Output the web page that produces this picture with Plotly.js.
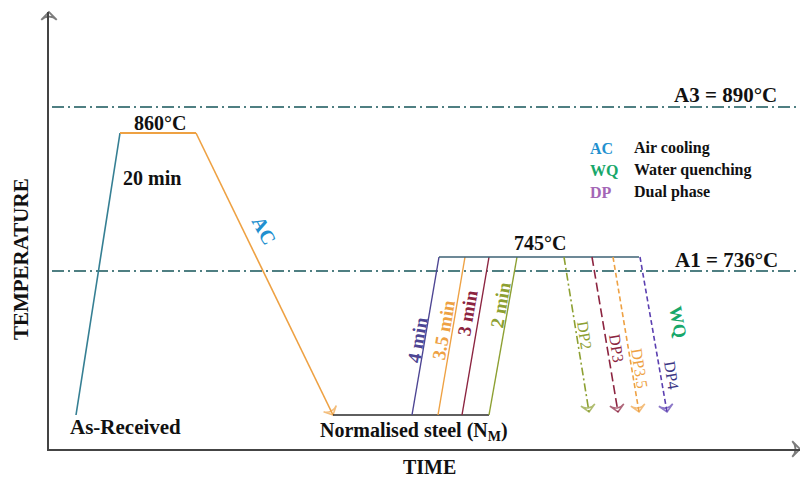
<!DOCTYPE html>
<html>
<head>
<meta charset="utf-8">
<script src="https://cdn.plot.ly/plotly-3.0.1.min.js"></script>
<style>html,body{margin:0;padding:0;background:#fff;}#chart{width:800px;height:480px;}</style>
</head>
<body>
<div id="chart"></div>
<script>
// Schematic heat-treatment cycle (arbitrary time / temperature units)
var A3Level = 34.2, A1Level = 17.8;
var criticalX = [0.3, 75.1];

var heatX = [2.7, 7.1], heatY = [3.4, 31.6];
var soakX = [7.1, 14.7], soakY = [31.6, 31.6];
var acX = [14.7, 28.4], acY = [31.6, 3.4];
var normX = [28.4, 44.0], normY = [3.4, 3.4];

var rampNames = ['4 min', '3.5 min', '3 min', '2 min'];
var rampStartX = [36.3, 38.9, 41.3, 44.0];
var rampTopX = [39.0, 41.6, 44.0, 46.8];
var rampBaseY = 3.4, icaY = 19.2;
var icaX = [39.0, 59.0];

var dpNames = ['DP2', 'DP3', 'DP3.5', 'DP4'];
var dpStartX = [51.5, 54.3, 56.4, 59.1];
var dpEndX = [54.0, 56.9, 59.0, 61.8];
var dpEndY = 3.7;

var rampLabelX = [36.8, 39.4, 41.8, 45.1];
var rampLabelY = [10.9, 11.9, 13.6, 14.4];
var dpLabelX = [53.6, 56.8, 59.1, 62.3];
var dpLabelY = [11.4, 10.1, 8.1, 7.4];

var legendKeys = ['AC', 'WQ', 'DP'];
var legendTexts = ['Air cooling', 'Water quenching', 'Dual phase'];
var legendY = [30.1, 27.9, 25.7];

var xRange = [0, 75.1], yRange = [0, 43.7];

var C = {
  heat: '#357f93', orange: '#eea143', black: '#2a2a2a', purple: '#4d4593',
  maroon: '#8c2440', olive: '#8da032', ica: '#3d6275', crit: '#4f7f82',
  dp4: '#5b3fb0', ac: '#2190cf', wq: '#17a76a', dp: '#a466b6', axis: '#444'
};
var rampColors = [C.purple, C.orange, C.maroon, C.olive];
var dpColors = [C.olive, C.maroon, C.orange, C.dp4];
var dpLabelColors = [C.olive, C.maroon, C.orange, '#3b3685'];
var dpDash = ['8px,3px,2px,3px', '9px,4px', '5px,3px', '5px,3px'];

var FONT = 'Liberation Serif, Times New Roman, serif';

function line(x, y, color, width, dash, arrow) {
  var t = {x: x, y: y, type: 'scatter', mode: arrow ? 'lines+markers' : 'lines',
    line: {color: color, width: width, dash: dash || 'solid'}, hoverinfo: 'skip', showlegend: false};
  if (arrow) {
    t.marker = {symbol: 'arrow-wide-open', size: [0, 10], angleref: 'previous',
      color: color, line: {color: color, width: 1.6}};
  }
  return t;
}
function axisHead(x, y) {
  return {x: x, y: y, type: 'scatter', mode: 'markers', cliponaxis: false, hoverinfo: 'skip', showlegend: false,
    marker: {symbol: 'arrow-wide-open', size: [0, 11], angleref: 'previous',
      color: C.axis, line: {color: C.axis, width: 1.8}}};
}

var traces = [];
traces.push(line(criticalX, [A3Level, A3Level], C.crit, 1.8, '12px,4px,2px,4px'));
traces.push(line(criticalX, [A1Level, A1Level], C.crit, 1.8, '12px,4px,2px,4px'));
traces.push(line(heatX, heatY, C.heat, 1.6));
traces.push(line(soakX, soakY, C.orange, 1.8));
traces.push(line(acX, acY, C.orange, 1.6, 'solid', true));
traces.push(line(normX, normY, C.black, 1.6));
for (var i = 0; i < rampNames.length; i++) {
  traces.push(line([rampStartX[i], rampTopX[i]], [rampBaseY, icaY], rampColors[i], 1.4));
}
traces.push(line(icaX, [icaY, icaY], C.ica, 1.6));
for (var j = 0; j < dpNames.length; j++) {
  traces.push(line([dpStartX[j], dpEndX[j]], [icaY, dpEndY], dpColors[j], 1.6, dpDash[j], true));
}
traces.push(axisHead([xRange[0], xRange[0]], [yRange[1] - 2, yRange[1]]));
traces.push(axisHead([xRange[1] - 2, xRange[1]], [yRange[0], yRange[0]]));

function ann(text, x, y, color, size, angle, extra) {
  var a = {text: text, x: x, y: y, xref: 'x', yref: 'y', showarrow: false,
    font: {family: FONT, size: size, color: color}, textangle: angle || 0};
  if (extra) for (var k in extra) a[k] = extra[k];
  return a;
}
function b(s) { return '<b>' + s + '</b>'; }

var annotations = [];
annotations.push(ann(b('860°C'), 11.1, 32.6, '#111', 20));
annotations.push(ann(b('20 min'), 10.3, 27.1, '#111', 20));
annotations.push(ann(b('AC'), 21.5, 21.9, C.ac, 20, 62));
annotations.push(ann(b('745°C'), 49.1, 20.6, '#111', 20));
annotations.push(ann(b('A3 = 890°C'), 67.6, 35.4, '#111', 21));
annotations.push(ann(b('A1 = 736°C'), 67.7, 18.9, '#111', 21));
annotations.push(ann(b('As-Received'), 7.6, 2.2, '#111', 21));
annotations.push(ann(b('Normalised steel (N<sub>M</sub>)'), 36.5, 1.8, '#111', 20));
annotations.push(ann(b('WQ'), 62.9, 12.7, C.wq, 18, 80));
for (var r = 0; r < rampNames.length; r++) {
  annotations.push(ann(b(rampNames[r]), rampLabelX[r], rampLabelY[r], rampColors[r], 19, -80));
}
for (var d = 0; d < dpNames.length; d++) {
  annotations.push(ann(dpNames[d], dpLabelX[d], dpLabelY[d], dpLabelColors[d], 16, 81));
}
var keyColors = [C.ac, C.wq, C.dp];
for (var l = 0; l < legendKeys.length; l++) {
  annotations.push(ann(b(legendKeys[l]), 53.9, legendY[l], keyColors[l], 16, 0, {xanchor: 'left'}));
  annotations.push(ann(b(legendTexts[l]), 58.3, legendY[l], '#111', 16, 0, {xanchor: 'left'}));
}
// axis titles
annotations.push({text: b('TIME'), xref: 'paper', yref: 'paper', x: 0.506, y: -0.041,
  xanchor: 'center', yanchor: 'middle', showarrow: false,
  font: {family: FONT, size: 20, color: '#111'}});
annotations.push({text: b('TEMPERATURE'), xref: 'paper', yref: 'paper', x: -0.037, y: 0.435,
  xanchor: 'center', yanchor: 'middle', showarrow: false,
  textangle: -90, font: {family: FONT, size: 21, color: '#111'}});

var layout = {
  width: 800, height: 480,
  margin: {l: 49, r: 0, t: 12, b: 31},
  paper_bgcolor: '#fff', plot_bgcolor: '#fff',
  showlegend: false,
  xaxis: {range: xRange, showgrid: false, zeroline: false, showticklabels: false, ticks: '',
    showline: true, linecolor: C.axis, linewidth: 2},
  yaxis: {range: yRange, showgrid: false, zeroline: false, showticklabels: false, ticks: '',
    showline: true, linecolor: C.axis, linewidth: 2},
  annotations: annotations
};

Plotly.newPlot('chart', traces, layout, {staticPlot: true, displayModeBar: false});
</script>
</body>
</html>
